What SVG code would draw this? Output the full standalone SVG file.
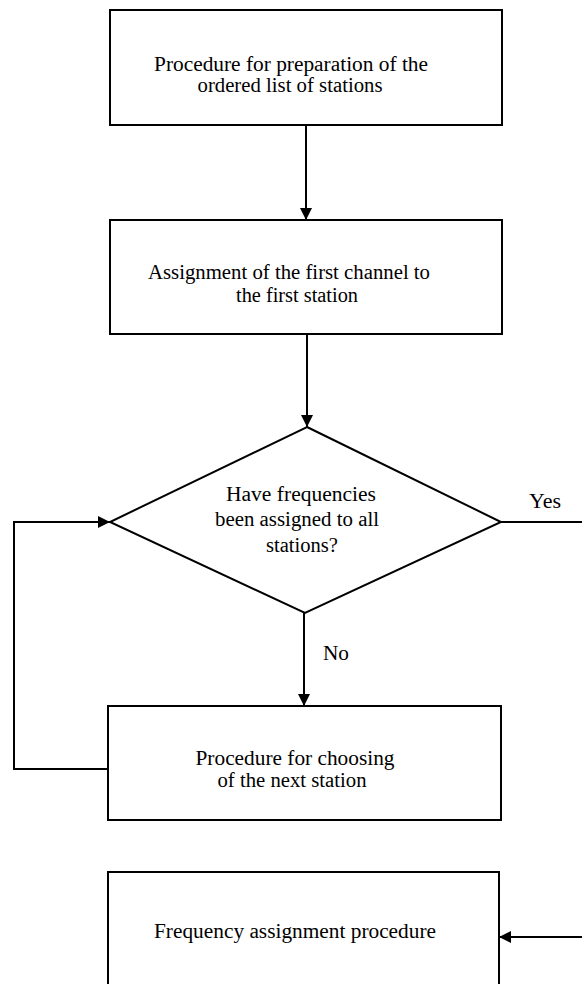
<svg xmlns="http://www.w3.org/2000/svg" width="582" height="984" viewBox="0 0 582 984">
  <style>
    .box { fill: #fff; stroke: #000; stroke-width: 2; }
    .wire { fill: none; stroke: #000; stroke-width: 2; }
    .t { font-family: "Liberation Serif", "Times New Roman", Times, "DejaVu Serif", serif; font-size: 20px; fill: #000; text-anchor: middle; }
  </style>
  <defs>
    <marker id="arrow" viewBox="0 0 12 12" refX="12" refY="6" markerWidth="12" markerHeight="12" markerUnits="userSpaceOnUse" orient="auto">
      <path d="M0,0 L12,6 L0,12 Z" fill="#000"/>
    </marker>
  </defs>
  <rect width="582" height="984" fill="#fff"/>

  <g id="connectors">
    <line class="wire" x1="306" y1="125" x2="306" y2="220" marker-end="url(#arrow)"/>
    <line class="wire" x1="307" y1="334" x2="307" y2="427" marker-end="url(#arrow)"/>
    <line class="wire" x1="304" y1="613" x2="304" y2="706" marker-end="url(#arrow)"/>
    <polyline class="wire" points="108,769 14,769 14,522 110,522" marker-end="url(#arrow)"/>
    <line class="wire" x1="501" y1="522" x2="582" y2="522"/>
    <line class="wire" x1="582" y1="937" x2="499" y2="937" marker-end="url(#arrow)"/>
    <text class="t" x="545" y="508" textLength="32" lengthAdjust="spacingAndGlyphs">Yes</text>
    <text class="t" x="336" y="660" textLength="26" lengthAdjust="spacingAndGlyphs">No</text>
  </g>

  <g id="prepare-list">
    <rect class="box" x="110" y="10" width="392" height="115"/>
    <text class="t" x="291" y="71" textLength="274" lengthAdjust="spacingAndGlyphs">Procedure for preparation of the</text>
    <text class="t" x="290" y="92" textLength="185" lengthAdjust="spacingAndGlyphs">ordered list of stations</text>
  </g>

  <g id="first-channel">
    <rect class="box" x="110" y="220" width="392" height="114"/>
    <text class="t" x="289" y="279" textLength="282" lengthAdjust="spacingAndGlyphs">Assignment of the first channel to</text>
    <text class="t" x="297" y="302" textLength="122" lengthAdjust="spacingAndGlyphs">the first station</text>
  </g>

  <g id="all-assigned">
    <polygon class="box" points="307,427 501,522 305,613 110,522"/>
    <text class="t" x="301" y="501" textLength="150" lengthAdjust="spacingAndGlyphs">Have frequencies</text>
    <text class="t" x="297" y="526" textLength="164" lengthAdjust="spacingAndGlyphs">been assigned to all</text>
    <text class="t" x="302" y="552" textLength="72" lengthAdjust="spacingAndGlyphs">stations?</text>
  </g>

  <g id="next-station">
    <rect class="box" x="108" y="706" width="393" height="114"/>
    <text class="t" x="295" y="765" textLength="199" lengthAdjust="spacingAndGlyphs">Procedure for choosing</text>
    <text class="t" x="292" y="787" textLength="149" lengthAdjust="spacingAndGlyphs">of the next station</text>
  </g>

  <g id="frequency-assignment">
    <rect class="box" x="108" y="872" width="391" height="114"/>
    <text class="t" x="295" y="938" textLength="282" lengthAdjust="spacingAndGlyphs">Frequency assignment procedure</text>
  </g>
</svg>
